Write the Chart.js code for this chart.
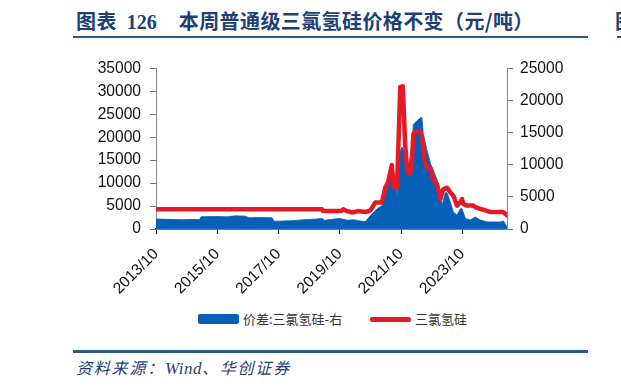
<!DOCTYPE html>
<html>
<head>
<meta charset="utf-8">
<script src="https://cdn.jsdelivr.net/npm/chart.js@4.4.1/dist/chart.umd.min.js"></script>
<style>
  html,body{margin:0;padding:0;background:#fff;width:621px;height:388px;overflow:hidden;position:relative;}
  .t{position:absolute;white-space:nowrap;}
  #title{left:76px;top:6px;font:bold 20px "Noto Sans CJK SC";color:#1d3f76;line-height:30px;letter-spacing:0.4px;}
  #title .num{font:bold 20px "Liberation Serif","DejaVu Serif";margin-left:10px;margin-right:22px;letter-spacing:0;}
  #tline{position:absolute;left:73px;top:35.5px;width:515px;height:2.5px;background:#2b5890;}
  #frag{left:615px;top:6px;font:bold 20px "Noto Sans CJK SC";color:#1d3f76;line-height:30px;}
  #fline{position:absolute;left:617px;top:35.5px;width:10px;height:2.5px;background:#2b5890;}
  #bline{position:absolute;left:73px;top:350px;width:515px;height:2.5px;background:#2b5890;}
  #src{left:76px;top:356px;font:italic 16px "Noto Sans CJK SC";color:#1d3f76;line-height:22px;letter-spacing:1.8px;}
  #src .w{font:italic 17px "Liberation Serif";letter-spacing:0.5px;}
  canvas{position:absolute;left:0;top:50px;}
  .sw{position:absolute;border-radius:2px;}
  .lg{position:absolute;font:13px "Noto Sans CJK SC";color:#333;line-height:16px;}
</style>
</head>
<body>
<div class="t" id="title">图表<span class="num">126</span>本周普通级三氯氢硅价格不变（元/吨）</div>
<div id="tline"></div>
<div class="t" id="frag">图</div>
<div id="fline"></div>
<canvas id="c" width="621" height="250"></canvas>
<div class="sw" style="left:198px;top:314px;width:41px;height:10px;background:#0760b8;"></div>
<div class="lg" style="left:243px;top:311px;">价差:三氯氢硅-右</div>
<div class="sw" style="left:370px;top:317px;width:41px;height:4.5px;background:#e51a26;"></div>
<div class="lg" style="left:415px;top:311px;">三氯氢硅</div>
<div id="bline"></div>
<div class="t" id="src">资料来源：<span class="w">Wind</span>、华创证券</div>
<script>
// ---- data ----
const tickLabels = ["2013/10","2015/10","2017/10","2019/10","2021/10","2023/10"];

const priceDates = ["2013-10-01","2016-06-01","2019-03-01","2019-03-15","2019-10-15","2019-11-10","2019-12-10","2020-01-15","2020-03-01","2020-05-01","2020-08-01","2020-09-28","2020-11-28","2021-02-15","2021-03-25","2021-05-01","2021-06-12","2021-07-03","2021-08-12","2021-08-28","2021-09-21","2021-10-21","2021-11-18","2021-12-10","2021-12-25","2022-01-18","2022-02-10","2022-02-25","2022-03-18","2022-05-15","2022-06-06","2022-06-21","2022-07-15","2022-08-08","2022-09-15","2022-10-03","2022-10-18","2022-12-03","2023-01-12","2023-02-15","2023-04-01","2023-05-10","2023-06-15","2023-07-28","2023-09-06","2023-09-27","2023-10-12","2023-11-25","2024-02-10","2024-03-03","2024-05-03","2024-07-01","2024-09-01","2025-02-03","2025-03-15"];
const priceValues = [4300,4300,4300,3900,3900,4300,4000,3800,3600,3900,3700,4000,5800,5800,9000,10400,13950,9000,9000,17450,30970,31090,18550,13600,12180,12180,15700,20680,21250,21250,20000,17850,14300,13240,13240,12180,10770,9770,6520,8640,9000,7930,7230,5100,5800,6520,5460,5100,5100,4740,4400,4040,3680,3680,2980];

const spreadDates = ["2013-10-01","2014-03-01","2014-08-01","2015-01-01","2015-03-01","2015-03-20","2015-09-01","2016-02-01","2016-05-01","2016-09-01","2016-10-15","2017-02-01","2017-07-15","2017-08-10","2017-12-01","2018-03-20","2018-08-01","2019-01-01","2019-03-01","2019-04-01","2019-07-01","2019-10-01","2020-01-01","2020-03-15","2020-06-01","2020-08-01","2020-10-01","2020-12-20","2021-02-18","2021-04-18","2021-05-24","2021-06-15","2021-07-21","2021-08-15","2021-08-28","2021-10-12","2021-10-27","2021-12-25","2022-02-08","2022-02-25","2022-04-06","2022-05-15","2022-06-06","2022-06-21","2022-08-06","2022-09-15","2022-10-18","2022-12-03","2023-01-12","2023-02-01","2023-03-10","2023-04-01","2023-05-10","2023-06-15","2023-07-28","2023-09-06","2023-09-27","2023-11-06","2024-01-03","2024-03-03","2024-05-03","2024-07-20","2024-12-28","2025-02-03","2025-03-15"];
const spreadValues = [1550,1500,1450,1500,1450,1900,1950,1900,2050,2000,1750,1800,1750,1200,1250,1300,1450,1550,1650,1350,1500,1650,1350,1450,1250,1150,2100,3150,3650,6200,8700,9450,7200,5150,11200,12750,12250,9200,12750,16300,16800,17300,17300,14800,12250,10200,9200,7700,5150,3650,5650,5650,4150,2650,2150,3150,3150,1650,1400,1850,1400,1100,1100,1250,350];

// ---- helpers ----
function monthIndex(s){
  const p = s.split(/[-\/]/).map(Number);
  const d = p.length > 2 ? p[2] : 1;
  return (p[0]-2013)*12 + (p[1]-10) + (d-1)/30.44;
}
const pricePts = priceDates.map((d,i)=>({x:monthIndex(d), y:priceValues[i]}));
const spreadPts = spreadDates.map((d,i)=>({x:monthIndex(d), y:spreadValues[i]}));
const xMax = Math.max(pricePts[pricePts.length-1].x, spreadPts[spreadPts.length-1].x);
const tickPos = tickLabels.map(monthIndex);

const tickFont = {family:'"Liberation Sans", Arial, sans-serif', size:15.6};
const plain = (v)=>String(v);

new Chart(document.getElementById('c'), {
  type:'line',
  data:{
    datasets:[
      {label:'三氯氢硅', data:pricePts, yAxisID:'yL', borderColor:'#e51a26', backgroundColor:'#e51a26',
       borderWidth:4.5, pointRadius:0, tension:0, fill:false, order:0, borderJoinStyle:'round', borderCapStyle:'round'},
      {label:'价差:三氯氢硅-右', data:spreadPts, yAxisID:'yR', borderColor:'#0760b8', backgroundColor:'#0760b8',
       borderWidth:0.8, pointRadius:0, tension:0, fill:'origin', order:1}
    ]
  },
  options:{
    responsive:false, animation:false, devicePixelRatio:1,
    layout:{padding:{top:15,left:0,right:0,bottom:0}},
    plugins:{legend:{display:false}, tooltip:{enabled:false}},
    scales:{
      x:{type:'linear', min:0, max:xMax,
         afterBuildTicks:(s)=>{ s.ticks = tickPos.map(v=>({value:v})); },
         afterFit:(s)=>{ s.height = 71; },
         ticks:{callback:(v)=>{ const i = tickPos.findIndex(t=>Math.abs(t-v)<1e-6); return i>=0 ? tickLabels[i] : ''; },
                minRotation:45, maxRotation:45, color:'#111', font:tickFont, padding:11, autoSkip:false},
         grid:{drawOnChartArea:false, drawTicks:true, tickLength:5, color:'#000', lineWidth:1},
         border:{color:'#000', width:1.6}},
      yL:{position:'left', min:0, max:35000,
         afterBuildTicks:(s)=>{ const t=[]; for(let v=0; v<=35000; v+=5000) t.push({value:v}); s.ticks=t; },
         afterFit:(s)=>{ s.width = 156; },
         ticks:{color:'#111', font:tickFont, padding:9, callback:plain},
         grid:{drawOnChartArea:false, drawTicks:true, tickLength:6, color:'#777', lineWidth:1},
         border:{color:'#888', width:1}},
      yR:{position:'right', min:0, max:25000,
         afterBuildTicks:(s)=>{ const t=[]; for(let v=0; v<=25000; v+=5000) t.push({value:v}); s.ticks=t; },
         afterFit:(s)=>{ s.width = 114; },
         ticks:{color:'#111', font:tickFont, padding:7, callback:plain},
         grid:{drawOnChartArea:false, drawTicks:true, tickLength:6, color:'#777', lineWidth:1},
         border:{color:'#888', width:1}}
    }
  }
});
</script>
</body>
</html>
